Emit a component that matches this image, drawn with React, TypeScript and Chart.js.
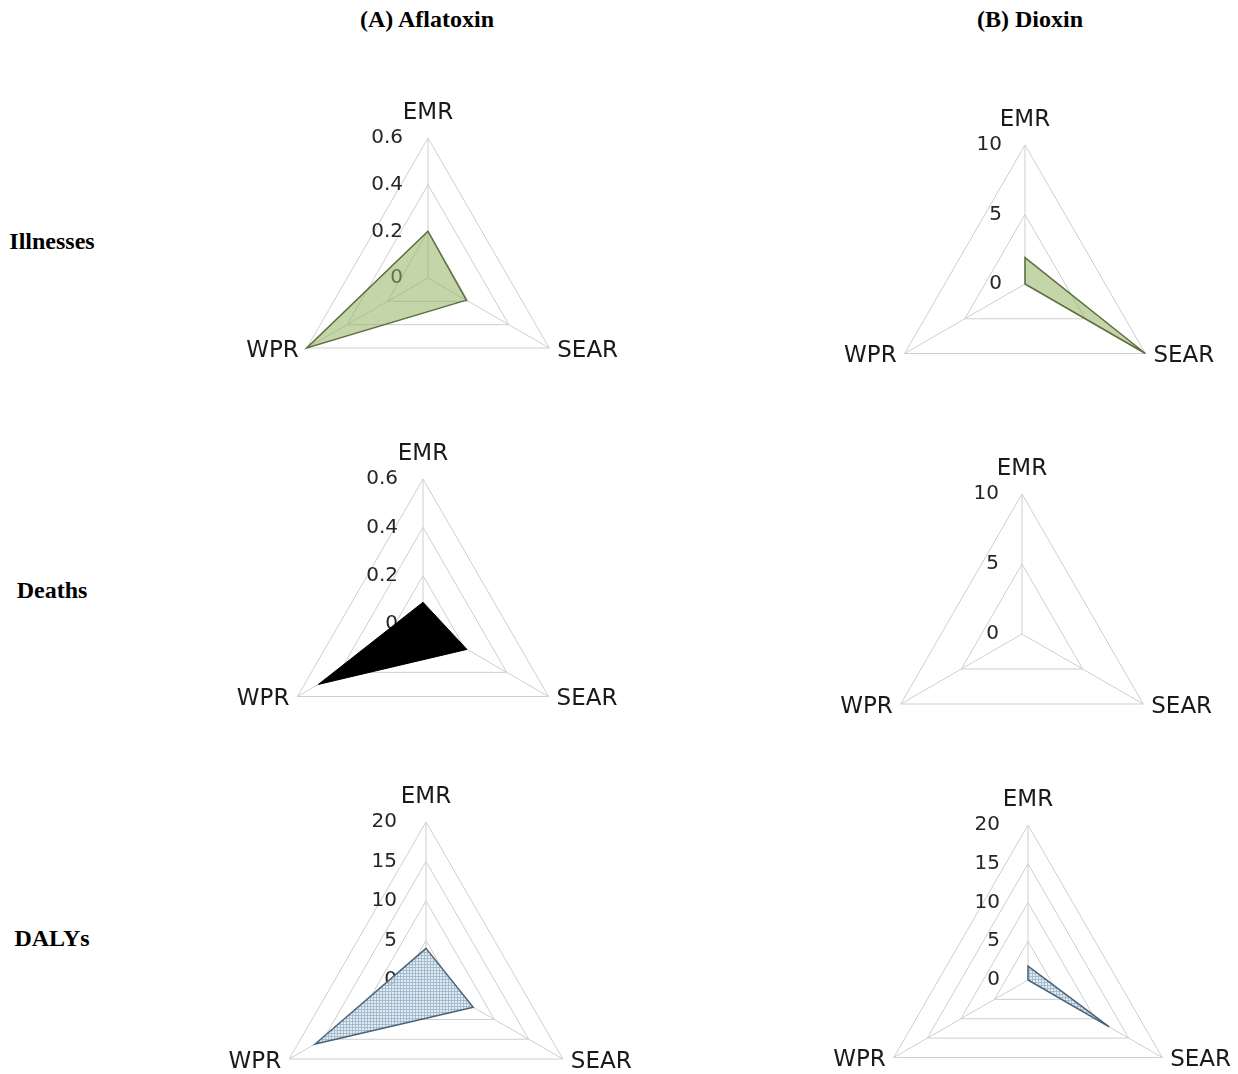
import React, { useEffect, useRef } from "react";
import { Chart, registerables } from "chart.js";

Chart.register(...registerables);

// ---------- data ----------
const regions = ["EMR", "SEAR", "WPR"];
const columnTitles = ["(A) Aflatoxin", "(B) Dioxin"];
const rowTitles = ["Illnesses", "Deaths", "DALYs"];

const aflatoxinIllnesses = [0.2, 0.19, 0.6];
const dioxinIllnesses = [1.9, 10, 0];
const aflatoxinDeaths = [0.09, 0.21, 0.5];
const dioxinDeaths = [0, 0, 0];
const aflatoxinDalys = [4.0, 6.9, 16.2];
const dioxinDalys = [1.8, 12.1, 0];

const aflatoxinIllnessTicks = [0, 0.2, 0.4, 0.6];
const dioxinIllnessTicks = [0, 5, 10];
const aflatoxinDeathTicks = [0, 0.2, 0.4, 0.6];
const dioxinDeathTicks = [0, 5, 10];
const aflatoxinDalyTicks = [0, 5, 10, 15, 20];
const dioxinDalyTicks = [0, 5, 10, 15, 20];

// ---------- layout / style ----------
type Panel = {
  data: number[];
  ticks: number[];
  style: "green" | "black" | "hatch";
  cx: number;
  cy: number;
  r: number;
  gap: number;
};

const panels: Panel[] = [
  { data: aflatoxinIllnesses, ticks: aflatoxinIllnessTicks, style: "green", cx: 428, cy: 278, r: 140, gap: 25 },
  { data: dioxinIllnesses, ticks: dioxinIllnessTicks, style: "green", cx: 1025, cy: 284, r: 139, gap: 23 },
  { data: aflatoxinDeaths, ticks: aflatoxinDeathTicks, style: "black", cx: 423, cy: 624, r: 145, gap: 25 },
  { data: dioxinDeaths, ticks: dioxinDeathTicks, style: "black", cx: 1022, cy: 634, r: 140, gap: 23 },
  { data: aflatoxinDalys, ticks: aflatoxinDalyTicks, style: "hatch", cx: 426, cy: 980, r: 158, gap: 29 },
  { data: dioxinDalys, ticks: dioxinDalyTicks, style: "hatch", cx: 1028, cy: 980, r: 155, gap: 28 },
];

const columnTitlePos = [
  { x: 427, y: 19 },
  { x: 1030, y: 19 },
];
const rowTitlePos = [
  { x: 52, y: 241 },
  { x: 52, y: 590 },
  { x: 52, y: 938 },
];

const CANVAS_W = 460;
const CENTER_X = 230;
const GRID_COLOR = "#cfcfcf";
const SANS = '"DejaVu Sans", "Open Sans", sans-serif';
const SERIF = '"Liberation Serif", "Times New Roman", serif';

function makeHatch(): CanvasPattern | string {
  const c = document.createElement("canvas");
  c.width = 3;
  c.height = 3;
  const g = c.getContext("2d");
  if (!g) return "rgba(200,218,232,0.8)";
  g.fillStyle = "rgba(222,232,240,0.85)";
  g.fillRect(0, 0, 3, 3);
  g.fillStyle = "rgba(150,176,200,0.75)";
  g.fillRect(0, 0, 3, 1);
  g.fillRect(0, 0, 1, 3);
  const pat = g.createPattern(c, "repeat");
  return pat || "rgba(200,218,232,0.8)";
}

function RadarPanel({ p }: { p: Panel }) {
  const ref = useRef<HTMLCanvasElement | null>(null);
  const cyL = p.r + 50;
  const H = cyL + p.r + 2;

  useEffect(() => {
    const canvas = ref.current;
    if (!canvas) return;

    let bg: any = "rgba(150,178,100,0.55)";
    let border = "#5e6e3e";
    let bw = 1.5;
    if (p.style === "black") {
      bg = "#000000";
      border = "#000000";
      bw = 1;
    } else if (p.style === "hatch") {
      bg = makeHatch();
      border = "#4d6478";
      bw = 1.5;
    }

    const labelPlugin = {
      id: "panelLabels",
      beforeDatasetsDraw(chart: any) {
        const scale = chart.scales.r;
        const ctx = chart.ctx;
        ctx.save();
        ctx.font = `20px ${SANS}`;
        ctx.fillStyle = "#262626";
        ctx.textAlign = "right";
        ctx.textBaseline = "middle";
        for (const v of p.ticks) {
          const pt = scale.getPointPositionForValue(0, v);
          ctx.fillText(String(v), pt.x - p.gap, pt.y);
        }
        ctx.restore();
      },
      afterDraw(chart: any) {
        const scale = chart.scales.r;
        const ctx = chart.ctx;
        ctx.save();
        ctx.font = `23px ${SANS}`;
        ctx.fillStyle = "#1a1a1a";
        ctx.textBaseline = "middle";
        regions.forEach((lab, i) => {
          const pt = scale.getPointPosition(i, scale.drawingArea);
          if (i === 0) {
            ctx.textAlign = "center";
            ctx.fillText(lab, pt.x, pt.y - 25);
          } else if (i === 1) {
            ctx.textAlign = "left";
            ctx.fillText(lab, pt.x + 8, pt.y + 3);
          } else {
            ctx.textAlign = "right";
            ctx.fillText(lab, pt.x - 8, pt.y + 3);
          }
        });
        ctx.restore();
      },
    };

    const tmin = p.ticks[0];
    const tmax = p.ticks[p.ticks.length - 1];
    const step = p.ticks[1] - p.ticks[0];

    const chart = new Chart(canvas, {
      type: "radar",
      data: {
        labels: regions,
        datasets: [
          {
            data: p.data,
            backgroundColor: bg,
            borderColor: border,
            borderWidth: bw,
            pointRadius: 0,
            pointHoverRadius: 0,
            fill: true,
            tension: 0,
          },
        ],
      },
      options: {
        responsive: false,
        animation: false,
        devicePixelRatio: 1,
        events: [],
        layout: {
          padding: {
            left: CENTER_X - p.r,
            right: CANVAS_W - CENTER_X - p.r,
            top: cyL - p.r,
            bottom: H - cyL - p.r,
          },
        },
        plugins: {
          legend: { display: false },
          tooltip: { enabled: false },
          title: { display: false },
        },
        scales: {
          r: {
            min: tmin,
            max: tmax,
            ticks: { display: false, stepSize: step },
            pointLabels: { display: false },
            grid: { color: GRID_COLOR, lineWidth: 1 },
            angleLines: { color: GRID_COLOR, lineWidth: 1 },
          },
        },
      },
      plugins: [labelPlugin],
    } as any);

    return () => chart.destroy();
  }, []);

  return (
    <canvas
      ref={ref}
      width={CANVAS_W}
      height={H}
      style={{
        position: "absolute",
        left: p.cx - CENTER_X,
        top: p.cy - cyL,
        width: CANVAS_W,
        height: H,
      }}
    />
  );
}

export default function App() {
  const textStyle: React.CSSProperties = {
    position: "absolute",
    transform: "translate(-50%, -50%)",
    fontFamily: SERIF,
    fontWeight: "bold",
    fontSize: 24,
    whiteSpace: "nowrap",
    color: "#000",
    lineHeight: 1.2,
  };
  return (
    <div
      style={{
        position: "fixed",
        left: 0,
        top: 0,
        width: 1238,
        height: 1074,
        overflow: "hidden",
        background: "#ffffff",
      }}
    >
      {panels.map((p, i) => (
        <RadarPanel key={i} p={p} />
      ))}
      {columnTitles.map((t, i) => (
        <div
          key={"c" + i}
          style={{
            ...textStyle,
            left: columnTitlePos[i].x,
            top: columnTitlePos[i].y,
          }}
        >
          {t}
        </div>
      ))}
      {rowTitles.map((t, i) => (
        <div
          key={"r" + i}
          style={{
            ...textStyle,
            left: rowTitlePos[i].x,
            top: rowTitlePos[i].y,
          }}
        >
          {t}
        </div>
      ))}
    </div>
  );
}
